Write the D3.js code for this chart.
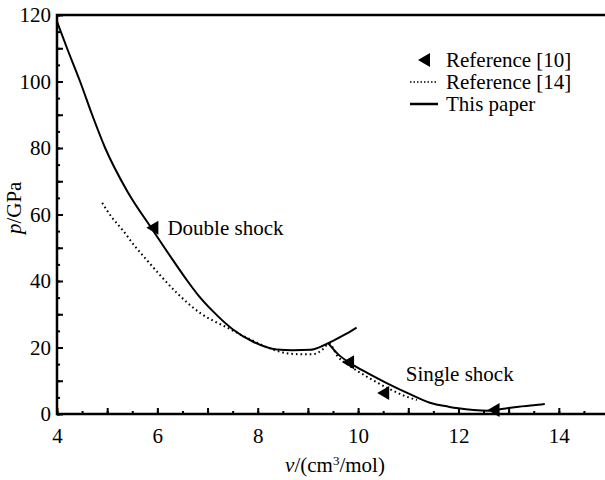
<!DOCTYPE html>
<html>
<head>
<meta charset="utf-8">
<script src="https://cdn.jsdelivr.net/npm/d3@7"></script>
<style>
  body { margin: 0; background: #fff; }
</style>
</head>
<body>
<svg id="plot"></svg>
<script>
// solid curve "This paper", double shock branch
const paperDoubleV = [4.0, 4.2, 4.46, 4.7, 4.96, 5.4, 5.9, 6.3, 6.6, 6.8, 7.1, 7.5, 7.9, 8.38, 8.7, 9.05, 9.25, 9.5, 9.75, 9.97];
const paperDoubleP = [118, 110, 100, 90, 80, 67, 55.5, 46.5, 40, 36, 31, 25.5, 21.8, 19.4, 19.2, 19.3, 20.2, 22, 24, 26];
// solid curve "This paper", single shock branch
const paperSingleV = [9.4, 9.6, 9.84, 10.2, 10.57, 11.0, 11.43, 11.8, 12.0, 12.3, 12.6, 12.9, 13.2, 13.5, 13.72];
const paperSingleP = [21.4, 18.0, 15.3, 12.2, 9.3, 6.2, 3.4, 2.2, 1.7, 1.2, 1.0, 1.6, 2.2, 2.6, 3.0];
// dotted curve "Reference [14]"
const ref14V = [4.9, 5.1, 5.31, 5.55, 5.79, 6.1, 6.39, 6.85, 7.39, 7.8, 8.2, 8.5, 8.8, 9.1, 9.3, 9.42, 9.6, 9.8, 10.2, 10.63, 10.9, 11.17];
const ref14P = [63.5, 59, 55.3, 50.5, 46.3, 41, 36.4, 30.4, 26.0, 22.8, 20.0, 18.5, 18.0, 18.0, 19.5, 21.2, 17.2, 14.8, 11.0, 7.5, 5.6, 4.2];
// triangles "Reference [10]"
const ref10V = [5.9, 9.8, 10.5, 12.7];
const ref10P = [56, 15.6, 6.3, 1.2];

const xTicks = [4, 6, 8, 10, 12, 14];
const yTicks = [0, 20, 40, 60, 80, 100, 120];
const legendNames = ["Reference [10]", "Reference [14]", "This paper"];

const zip = (a, b) => a.map((v, i) => [v, b[i]]);
const FONT = "Liberation Serif";

const W = 605, H = 480;
const margin = { top: 15, right: -4, bottom: 66, left: 57 },
  width = W - margin.left - margin.right,
  height = H - margin.top - margin.bottom;

const svg = d3.select("#plot").attr("width", W).attr("height", H)
  .append("g")
    .attr("transform", "translate(" + margin.left + "," + margin.top + ")");

const x = d3.scaleLinear().domain([4, 15]).range([0, width]);
const y = d3.scaleLinear().domain([0, 120]).range([height, 0]);

// minor ticks
svg.append("g")
  .attr("transform", "translate(0," + height + ")")
  .call(d3.axisBottom(x).tickValues(d3.range(4, 15.01, 0.5)).tickSize(-3).tickFormat(""))
  .call(g => g.select(".domain").remove());
svg.append("g")
  .call(d3.axisLeft(y).tickValues(d3.range(0, 120.01, 5)).tickSize(-3).tickFormat(""))
  .call(g => g.select(".domain").remove());

// major ticks with labels
svg.append("g")
  .attr("transform", "translate(0," + height + ")")
  .call(d3.axisBottom(x).tickValues(d3.range(4, 15.01, 1)).tickSize(-6).tickPadding(14)
    .tickFormat(d => xTicks.includes(d) ? d : ""))
  .call(g => g.select(".domain").remove());
svg.append("g")
  .call(d3.axisLeft(y).tickValues(d3.range(0, 120.01, 10)).tickSize(-6).tickPadding(6)
    .tickFormat(d => yTicks.includes(d) ? d : ""))
  .call(g => g.select(".domain").remove());

svg.selectAll("g").attr("font-family", null).attr("font-size", null);
svg.selectAll(".tick text").attr("font-family", FONT).attr("font-size", 21).attr("fill", "#000");
svg.selectAll(".tick line").attr("stroke", "#000").attr("stroke-width", 2);

// frame
svg.append("rect")
  .attr("width", width).attr("height", height)
  .attr("fill", "none").attr("stroke", "#000").attr("stroke-width", 2.5);

const line = d3.line().x(d => x(d[0])).y(d => y(d[1])).curve(d3.curveMonotoneX);

svg.append("path").datum(zip(ref14V, ref14P))
  .attr("d", line).attr("fill", "none").attr("stroke", "#000")
  .attr("stroke-width", 2).attr("stroke-dasharray", "1.6,3");

svg.append("path").datum(zip(paperDoubleV, paperDoubleP))
  .attr("d", line).attr("fill", "none").attr("stroke", "#000").attr("stroke-width", 2);
svg.append("path").datum(zip(paperSingleV, paperSingleP))
  .attr("d", line).attr("fill", "none").attr("stroke", "#000").attr("stroke-width", 2);

// left-pointing triangles
const tri = "M-6,0 L6,-7 L6,7 Z";
svg.append("g").selectAll("path")
  .data(zip(ref10V, ref10P))
  .join("path")
    .attr("transform", d => "translate(" + x(d[0]) + "," + y(d[1]) + ")")
    .attr("d", tri).attr("fill", "#000");

// annotations
svg.append("text").attr("x", x(6.2)).attr("y", y(56) + 7)
  .attr("font-family", FONT).attr("font-size", 21).text("Double shock");
svg.append("text").attr("x", x(10.95)).attr("y", y(12) + 7)
  .attr("font-family", FONT).attr("font-size", 21).text("Single shock");

// legend
const lg = svg.append("g").attr("transform", "translate(" + (410 - margin.left) + ",0)");
lg.append("path").attr("transform", "translate(14," + (60 - margin.top) + ")")
  .attr("d", tri).attr("fill", "#000");
lg.append("line").attr("x1", 0).attr("x2", 28).attr("y1", 82 - margin.top).attr("y2", 82 - margin.top)
  .attr("stroke", "#000").attr("stroke-width", 1.5).attr("stroke-dasharray", "1.5,2");
lg.append("line").attr("x1", 0).attr("x2", 28).attr("y1", 104 - margin.top).attr("y2", 104 - margin.top)
  .attr("stroke", "#000").attr("stroke-width", 2.5);
lg.selectAll("text.lg").data(legendNames).join("text")
  .attr("x", 36).attr("y", (d, i) => 60 - margin.top + i * 22 + 7)
  .attr("font-family", FONT).attr("font-size", 21).text(d => d);

// axis titles
const xt = svg.append("text").attr("x", width / 2 + 2).attr("y", height + 58)
  .attr("text-anchor", "middle").attr("font-family", FONT).attr("font-size", 21);
xt.append("tspan").attr("font-style", "italic").text("v");
xt.append("tspan").text("/(cm");
xt.append("tspan").attr("dy", -7).attr("font-size", 13).text("3");
xt.append("tspan").attr("dy", 7).text("/mol)");

const yt = svg.append("text").attr("transform", "translate(" + (-36) + "," + y(62) + ") rotate(-90)")
  .attr("text-anchor", "middle").attr("font-family", FONT).attr("font-size", 21);
yt.append("tspan").attr("font-style", "italic").text("p");
yt.append("tspan").text("/GPa");
</script>
</body>
</html>
